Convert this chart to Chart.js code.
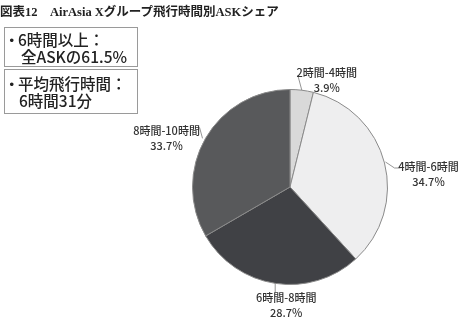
<!DOCTYPE html>
<html>
<head>
<meta charset="utf-8">
<script src="https://cdn.jsdelivr.net/npm/chart.js@4/dist/chart.umd.min.js"></script>
<style>
  html, body { margin: 0; padding: 0; background: #fff; }
  #wrap { position: relative; width: 463px; height: 319px; overflow: hidden; }
  #c { position: absolute; left: 0; top: 0; }
  #title { position: absolute; left: 0; top: 4px; white-space: nowrap;
    font-family: "Liberation Serif", "Noto Sans CJK JP", serif; font-weight: bold;
    font-size: 12.5px; color: #222; line-height: 16px; }
  .box { position: absolute; left: 4px; width: 134px; border: 1px solid #9a9a9a; box-sizing: border-box;
    font-family: "Noto Sans CJK JP", sans-serif; font-weight: 500; font-size: 15.5px; color: #222; line-height: 17px; }
  .box div { white-space: nowrap; }
  .dot { display: inline-block; width: 11px; overflow: hidden; vertical-align: top; text-indent: -3px; }
</style>
</head>
<body>
<div id="wrap">
  <canvas id="c" width="463" height="319"></canvas>
  <div id="title">図表12　AirAsia Xグループ飛行時間別ASKシェア</div>
  <div class="box" style="top:27px;height:40px;padding:3px 0 0 2px;">
    <div><span class="dot">・</span>6時間以上：</div>
    <div style="padding-left:14px;">全ASKの61.5%</div>
  </div>
  <div class="box" style="top:69px;height:45px;padding:5px 0 0 2px;">
    <div><span class="dot">・</span>平均飛行時間：</div>
    <div style="padding-left:12px;">6時間31分</div>
  </div>
</div>
<script>
const categories = ['2時間-4時間', '4時間-6時間', '6時間-8時間', '8時間-10時間'];
const shares = [3.9, 34.7, 28.7, 33.7];
const shareLabels = ['3.9%', '34.7%', '28.7%', '33.7%'];

const sliceColors = ['#d9d9d9', '#eeeeef', '#404145', '#58595b'];
// leader line points and text centre, as offsets from the slice's outer mid point
const labelLayout = [
  { line: [[0, 0], [-4, -15]], text: [25, -10] },
  { line: [[1, -1], [10, 5], [16, 5]], text: [44, 11] },
  { line: [[0, 0], [0, 9]], text: [11, 21] },
  { line: [[-3, 0], [-6, -11]], text: [-39, -1] }
];

const labelPlugin = {
  id: 'pieLabels',
  afterDatasetsDraw(chart) {
    const ctx = chart.ctx;
    const meta = chart.getDatasetMeta(0);
    ctx.save();
    meta.data.forEach((arc, i) => {
      const mid = (arc.startAngle + arc.endAngle) / 2;
      const ex = arc.x + arc.outerRadius * Math.cos(mid);
      const ey = arc.y + arc.outerRadius * Math.sin(mid);
      const lay = labelLayout[i];
      ctx.beginPath();
      lay.line.forEach((p, k) => {
        if (k === 0) ctx.moveTo(ex + p[0], ey + p[1]); else ctx.lineTo(ex + p[0], ey + p[1]);
      });
      ctx.strokeStyle = '#7a7a7a';
      ctx.lineWidth = 0.8;
      ctx.stroke();
      ctx.fillStyle = '#333';
      ctx.font = '500 11px "Noto Sans CJK JP", sans-serif';
      ctx.textAlign = 'center';
      ctx.textBaseline = 'middle';
      const tx = ex + lay.text[0], ty = ey + lay.text[1];
      ctx.fillText(categories[i], tx, ty - 7);
      ctx.fillText(shareLabels[i], tx, ty + 8);
    });
    ctx.restore();
  }
};

new Chart(document.getElementById('c'), {
  type: 'pie',
  data: {
    labels: categories,
    datasets: [{
      data: shares,
      backgroundColor: sliceColors,
      borderColor: '#8a8a8a',
      borderWidth: 1
    }]
  },
  options: {
    responsive: false,
    animation: false,
    layout: { padding: { left: 192, right: 75, top: 89, bottom: 34 } },
    plugins: { legend: { display: false }, tooltip: { enabled: false } }
  },
  plugins: [labelPlugin]
});
</script>
</body>
</html>
